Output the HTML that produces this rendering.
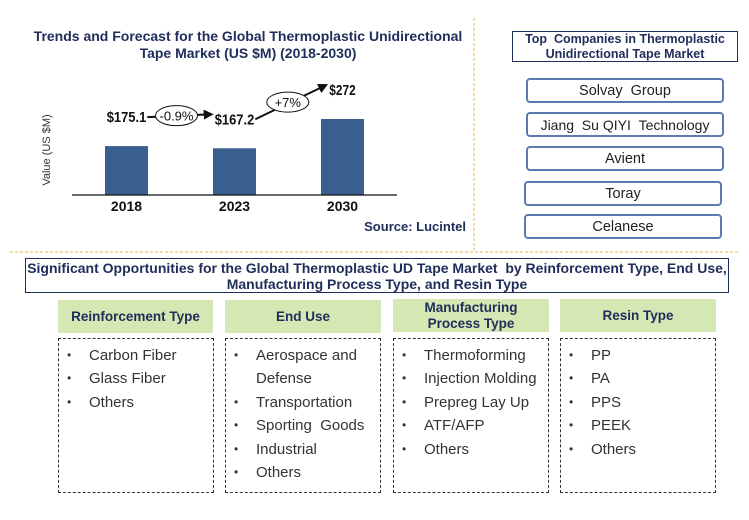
<!DOCTYPE html>
<html><head><meta charset="utf-8"><style>
body{margin:0;width:749px;height:520px;background:#fff;font-family:"Liberation Sans",sans-serif;position:relative;overflow:hidden}
.abs{position:absolute;box-sizing:border-box}
.navy{color:#1f2d5a}
.co{position:absolute;left:526px;width:198px;height:25px;border:2px solid #5a7bb0;border-radius:4px;box-sizing:border-box;text-align:center;font-size:14.5px;line-height:23px;color:#222}
.hdr{position:absolute;background:#d5e8b4;color:#1f2d5a;font-weight:bold;font-size:13.5px;text-align:center;display:flex;align-items:center;justify-content:center;line-height:16px}
.lst{position:absolute;border:1.3px dashed #333;box-sizing:border-box;top:338px;height:155px;width:156px;font-size:15px;color:#333}
.lst ul{margin:0;padding:5px 0 0 8px;list-style:none}
.lst li{position:relative;padding-left:22px;line-height:23.4px}
.lst li:before{content:"•";position:absolute;left:0;font-size:12px}
</style></head><body>
<div class="abs navy" style="left:20px;top:28px;width:456px;text-align:center;font-weight:bold;font-size:14px;line-height:17px">Trends and Forecast for the Global Thermoplastic Unidirectional<br>Tape Market (US $M) (2018-2030)</div>
<svg class="abs" style="left:0;top:0" width="749" height="520">
<defs><marker id="ah" markerWidth="5" markerHeight="5" refX="4" refY="2.5" orient="auto"><path d="M0,0L5,2.5L0,5z" fill="#111"/></marker></defs>
<line x1="474" y1="18" x2="474" y2="250" stroke="#e0b84a" stroke-dasharray="3,2"/>
<line x1="10" y1="252" x2="740" y2="252" stroke="#e0b84a" stroke-dasharray="3,2"/>
<text x="50" y="150" transform="rotate(-90 50 150)" text-anchor="middle" font-size="11" fill="#333">Value (US $M)</text>
<g id="g"></g>
<line x1="72" y1="195" x2="397" y2="195" stroke="#111" stroke-width="1.2"/>
<text x="466" y="231" text-anchor="end" font-size="13" font-weight="bold" fill="#1f2d5a">Source: Lucintel</text>
</svg>
<script>
const categories=["2018","2023","2030"];
const values=[175.1,167.2,272];
const valueLabels=["$175.1","$167.2","$272"];
const growthLabels=["-0.9%","+7%"];
const NS="http://www.w3.org/2000/svg",g=document.getElementById("g");
const base=195,maxH=76,x0=105,step=108,bw=43;
const y=v=>base-v/272*maxH;
const xc=i=>x0+i*step+bw/2;
function mk(t,a){const e=document.createElementNS(NS,t);for(const k in a)e.setAttribute(k,a[k]);g.appendChild(e);return e;}
const lw=s=>s.length*6.6;
categories.forEach((c,i)=>{
 const r=mk("rect",{x:x0+i*step,y:y(values[i]),width:bw,height:base-y(values[i]),fill:"#3a5f8f"});
 
 
 const t=mk("text",{x:xc(i),y:y(values[i])-24,"text-anchor":"middle","font-size":"15","font-weight":"bold",fill:"#111",textLength:lw(valueLabels[i]),lengthAdjust:"spacingAndGlyphs"});t.textContent=valueLabels[i];
 
 
 const xl=mk("text",{x:xc(i),y:211,"text-anchor":"middle","font-size":"14","font-weight":"bold",fill:"#111"});xl.textContent=c;
 
 
});
growthLabels.forEach((gl,i)=>{
 const x1=xc(i)+lw(valueLabels[i])/2+1,y1=y(values[i])-29,x2=xc(i+1)-lw(valueLabels[i+1])/2-3,y2=y(values[i+1])-34;
 const l=mk("line",{x1:x1,y1:y1,x2:x2,y2:y2,stroke:"#111","stroke-width":"2","marker-end":"url(#ah)"});
 
 
 const cx=(x1+x2)/2-3,cy=(y1+y2)/2;
 const e=mk("ellipse",{cx:cx,cy:cy,rx:21,ry:10,fill:"#fff",stroke:"#111"});
 
 
 const t=mk("text",{x:cx,y:cy+5,"text-anchor":"middle","font-size":"13",fill:"#111"});t.textContent=gl;
 
 
});
</script>
<div class="abs navy" style="left:512px;top:31px;width:226px;height:31px;border:1.3px solid #1f2d5a;text-align:center;font-weight:bold;font-size:12.5px;line-height:14.5px;padding-top:0px">Top &nbsp;Companies in Thermoplastic<br>Unidirectional Tape Market</div>
<div class="co" style="top:78px">Solvay &nbsp;Group</div>
<div class="co" style="top:112px;font-size:14px">Jiang &nbsp;Su QIYI &nbsp;Technology</div>
<div class="co" style="top:146px">Avient</div>
<div class="co" style="top:181px;left:524px">Toray</div>
<div class="co" style="top:214px;left:524px">Celanese</div>
<div class="abs navy" style="left:25px;top:258px;width:704px;height:35px;border:1.3px solid #1f2d5a;text-align:center;font-weight:bold;font-size:14px;line-height:16px;padding-top:1px">Significant Opportunities for the Global Thermoplastic UD Tape Market &nbsp;by Reinforcement Type, End Use,<br>Manufacturing Process Type, and Resin Type</div>
<div class="hdr" style="left:58px;top:300px;width:155px;height:33px">Reinforcement Type</div>
<div class="hdr" style="left:225px;top:300px;width:156px;height:33px">End Use</div>
<div class="hdr" style="left:393px;top:299px;width:156px;height:33px">Manufacturing<br>Process Type</div>
<div class="hdr" style="left:560px;top:299px;width:156px;height:33px">Resin Type</div>
<div class="lst" style="left:58px"><ul><li>Carbon Fiber</li><li>Glass Fiber</li><li>Others</li></ul></div>
<div class="lst" style="left:225px"><ul><li>Aerospace and Defense</li><li>Transportation</li><li>Sporting &nbsp;Goods</li><li>Industrial</li><li>Others</li></ul></div>
<div class="lst" style="left:393px"><ul><li>Thermoforming</li><li>Injection Molding</li><li>Prepreg Lay Up</li><li>ATF/AFP</li><li>Others</li></ul></div>
<div class="lst" style="left:560px"><ul><li>PP</li><li>PA</li><li>PPS</li><li>PEEK</li><li>Others</li></ul></div>
</body></html>
